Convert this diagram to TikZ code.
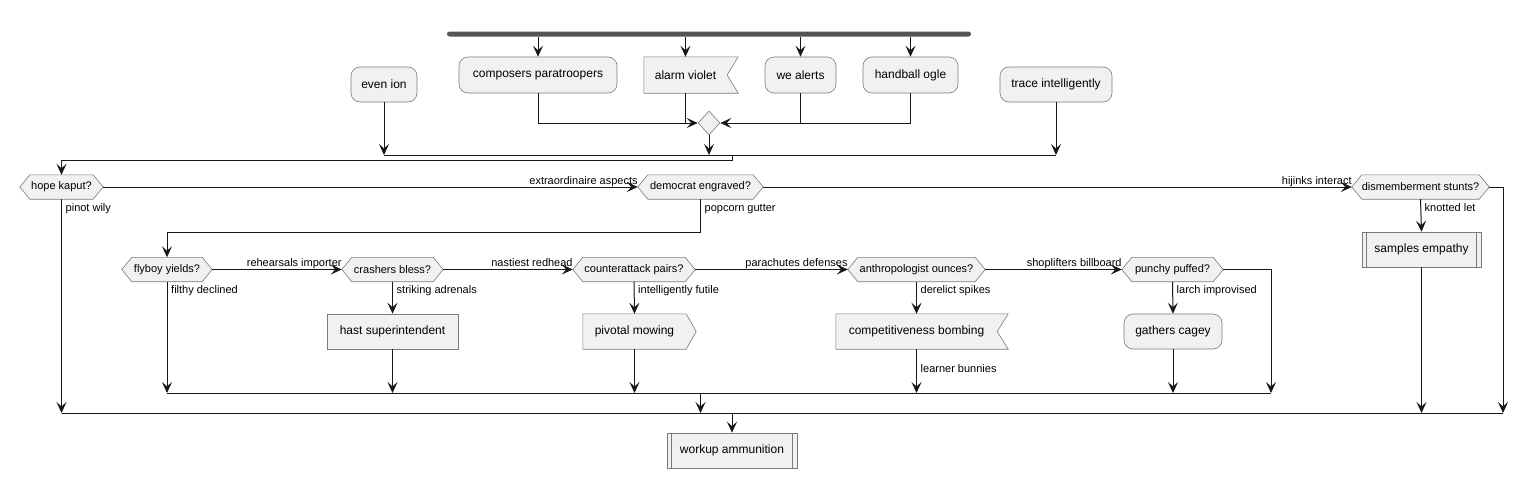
\documentclass[tikz,border=0pt]{standalone}
\usepackage{fontspec}
\setmainfont{Liberation Sans}
\usetikzlibrary{arrows.meta,shapes.geometric,backgrounds}
\definecolor{boxfill}{HTML}{F1F1F1}
\definecolor{boxline}{HTML}{7A7A7A}
\definecolor{arrline}{HTML}{181818}
\definecolor{barfill}{HTML}{555555}
\begin{document}
\begin{tikzpicture}[x=1pt,y=-1pt,
 every node/.style={font=\fontsize{12}{14}\selectfont, inner sep=0pt, text=black},
 rbox/.style={draw=boxline, fill=boxfill, line width=0.6pt, rounded corners=9pt, minimum height=35pt},
 sbox/.style={draw=boxline, fill=boxfill, line width=0.6pt, minimum height=35pt},
 ghost/.style={minimum height=35pt},
 hexn/.style={minimum height=24pt, font=\fontsize{11}{13}\selectfont},
 lbl/.style={font=\fontsize{11}{13}\selectfont},
 arr/.style={draw=arrline, line width=1pt, -{Stealth[length=11pt,width=10pt,inset=4.5pt]}},
 ln/.style={draw=arrline, line width=1pt},
 outl/.style={draw=boxline, fill=boxfill, line width=0.6pt},
]
\useasboundingbox (0,0) rectangle (1528,479);

% fork bar
\node[fill=barfill, minimum width=524pt, minimum height=5pt, rounded corners=2.5pt] (fork) at (709,34) {};

% top activities
\node[rbox, minimum width=66pt] (even) at (384,84.5) {even ion};
\node[rbox, minimum width=158pt, minimum height=36pt] (c1) at (538,75) {composers paratroopers};
\node[ghost, minimum width=83pt, minimum height=36pt] (c2) at (685.5,75) {alarm violet};
\node[rbox, minimum width=71pt, minimum height=36pt] (c3) at (800.5,75) {we alerts};
\node[rbox, minimum width=95pt, minimum height=36pt] (c4) at (910.5,75) {handball ogle};
\node[rbox, minimum width=112pt] (trace) at (1056,84.5) {trace intelligently};
\node[diamond, outl, minimum width=22pt, minimum height=24pt] (m1) at (709,123) {};

% decisions
\node[hexn, minimum width=83pt] (h1) at (61.5,187) {hope kaput?};
\node[hexn, minimum width=125pt] (h2) at (700.5,187) {democrat engraved?};
\node[hexn, minimum width=137pt] (h3) at (1420.5,187) {dismemberment stunts?};
\node[hexn, minimum width=90pt] (h4) at (167,269.5) {flyboy yields?};
\node[hexn, minimum width=101pt] (h5) at (392.5,269.5) {crashers bless?};
\node[hexn, minimum width=122pt] (h6) at (634,269.5) {counterattack pairs?};
\node[hexn, minimum width=137pt] (h7) at (916.5,269.5) {anthropologist ounces?};
\node[hexn, minimum width=101pt] (h8) at (1172.5,269.5) {punchy puffed?};

% second row activities
\node[sbox, minimum width=131pt] (b1) at (392.5,331.5) {hast superintendent};
\node[ghost, minimum width=103pt] (b2) at (634.5,331.5) {pivotal mowing};
\node[ghost, minimum width=161pt] (b3) at (916.5,331.5) {competitiveness bombing};
\node[rbox, minimum width=98pt] (b4) at (1173,331.5) {gathers cagey};
\node[sbox, minimum width=119pt] (s1) at (1421.5,249.5) {samples empathy};
\node[sbox, minimum width=130pt] (s2) at (732,450.5) {workup ammunition};

% outlines behind text
\begin{scope}[on background layer]
\foreach \n in {h1,h2,h3,h4,h5,h6,h7,h8}
  \path[outl] (\n.west) -- ([xshift=10pt]\n.north west) -- ([xshift=-10pt]\n.north east) -- (\n.east) -- ([xshift=-10pt]\n.south east) -- ([xshift=10pt]\n.south west) -- cycle;
\foreach \n in {c2,b3}
  \path[outl] (\n.north west) -- ([xshift=11pt]\n.north east) -- (\n.east) -- ([xshift=11pt]\n.south east) -- (\n.south west) -- cycle;
\path[outl] (b2.north west) -- (b2.north east) -- ([xshift=10pt]b2.east) -- (b2.south east) -- (b2.south west) -- cycle;
\end{scope}
\foreach \n in {s1,s2}{
  \draw[draw=boxline, line width=0.6pt] ([xshift=5pt]\n.north west) -- ([xshift=5pt]\n.south west);
  \draw[draw=boxline, line width=0.6pt] ([xshift=-5pt]\n.north east) -- ([xshift=-5pt]\n.south east);
}

% merge levels
\coordinate (bar1) at (0,155);
\coordinate (bar2) at (0,393);
\coordinate (bar3) at (0,413);
\coordinate (rr) at (1503,413);
\coordinate (rr2) at (1271,393);

% top connectors
\foreach \n in {c1,c2,c3,c4} \draw[arr] (\n.north |- fork.south) -- (\n.north);
\draw[arr] (c1.south) |- (m1.west);
\draw[ln] (c2.south) -- (c2.south |- m1.west);
\draw[ln] (c3.south) -- (c3.south |- m1.east);
\draw[arr] (c4.south) |- (m1.east);
\draw[arr] (m1.south) -- (m1.south |- bar1);
\draw[arr] (even.south) -- (even.south |- bar1);
\draw[arr] (trace.south) -- (trace.south |- bar1);
\draw[ln] (even.south |- bar1) -- (trace.south |- bar1);
\draw[arr] (s2.north |- bar1) -- ++(0,5) -| (h1.north);

% first decision row
\draw[arr] (h1.east) -- (h2.west);
\node[lbl, anchor=base east] (l1) at ([yshift=3pt]h2.west) {extraordinaire aspects};
\draw[arr] (h2.east) -- (h3.west);
\node[lbl, anchor=base east] (l2) at ([yshift=3pt]h3.west) {hijinks interact};
\draw[arr] (h1.south) -- (h1.south |- bar3);
\node[lbl, anchor=base west] (l3) at ([xshift=4pt,yshift=-12pt]h1.south) {pinot wily};
\draw[arr] (h2.south) -- ++(0,33) -| (h4.north);
\node[lbl, anchor=base west] (l4) at ([xshift=4pt,yshift=-12pt]h2.south) {popcorn gutter};
\draw[arr] (h3.south) -- (s1.north);
\node[lbl, anchor=base west] (l5) at ([xshift=4pt,yshift=-12pt]h3.south) {knotted let};
\draw[arr] (s1.south) -- (s1.south |- bar3);
\draw[arr] (h3.east) -| (rr);
\draw[ln] (h1.south |- bar3) -- (rr);
\draw[arr] (h2.south |- bar2) -- (h2.south |- bar3);
\draw[arr] (s2.north |- bar3) -- (s2.north);

% second decision row
\draw[arr] (h4.east) -- (h5.west);
\node[lbl, anchor=base east] (l6) at ([yshift=3pt]h5.west) {rehearsals importer};
\draw[arr] (h5.east) -- (h6.west);
\node[lbl, anchor=base east] (l7) at ([yshift=3pt]h6.west) {nastiest redhead};
\draw[arr] (h6.east) -- (h7.west);
\node[lbl, anchor=base east] (l8) at ([yshift=3pt]h7.west) {parachutes defenses};
\draw[arr] (h7.east) -- (h8.west);
\node[lbl, anchor=base east] (l9) at ([yshift=3pt]h8.west) {shoplifters billboard};

\draw[arr] (h4.south) -- (h4.south |- bar2);
\node[lbl, anchor=base west] (l10) at ([xshift=4pt,yshift=-12pt]h4.south) {filthy declined};
\draw[arr] (h5.south) -- (b1.north);
\node[lbl, anchor=base west] (l11) at ([xshift=4pt,yshift=-12pt]h5.south) {striking adrenals};
\draw[arr] (b1.south) -- (b1.south |- bar2);
\draw[arr] (h6.south) -- (b2.north);
\node[lbl, anchor=base west] (l12) at ([xshift=4pt,yshift=-12pt]h6.south) {intelligently futile};
\draw[arr] (b2.south) -- (b2.south |- bar2);
\draw[arr] (h7.south) -- (b3.north);
\node[lbl, anchor=base west] (l13) at ([xshift=4pt,yshift=-12pt]h7.south) {derelict spikes};
\draw[arr] (b3.south) -- (b3.south |- bar2);
\node[lbl, anchor=base west] (l14) at ([xshift=4pt,yshift=-23pt]b3.south) {learner bunnies};
\draw[arr] (h8.south) -- (b4.north);
\node[lbl, anchor=base west] (l15) at ([xshift=4pt,yshift=-12pt]h8.south) {larch improvised};
\draw[arr] (b4.south) -- (b4.south |- bar2);
\draw[arr] (h8.east) -| (rr2);
\draw[ln] (h4.south |- bar2) -- (rr2);
\end{tikzpicture}
\end{document}
